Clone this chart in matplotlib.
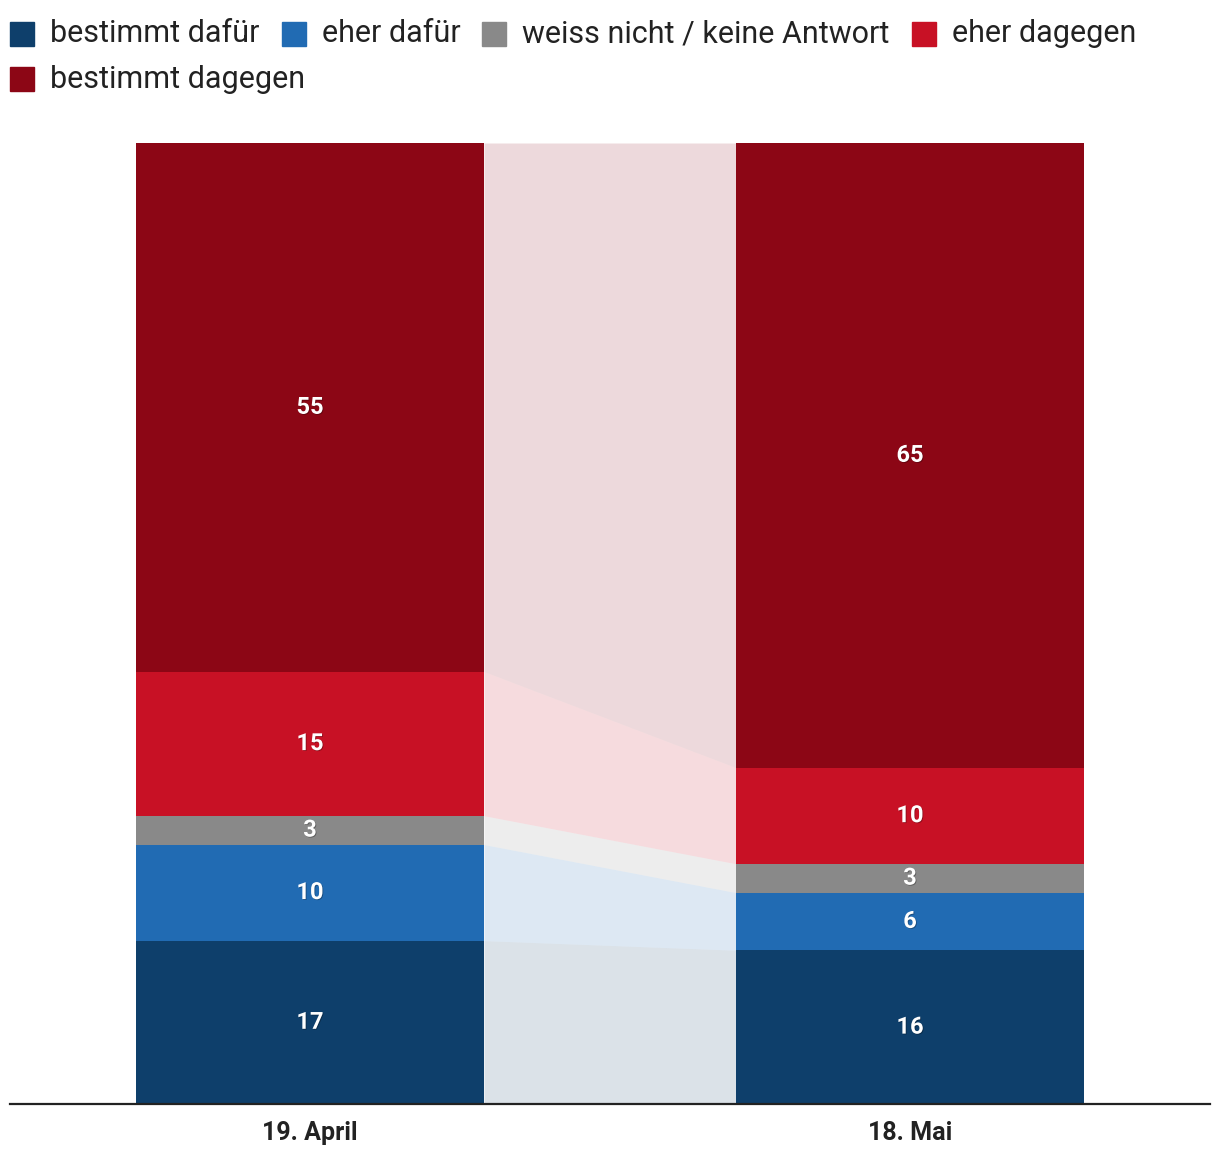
import matplotlib
matplotlib.use("Agg")
import matplotlib.pyplot as plt
import matplotlib.patheffects as pe
from matplotlib.patches import Rectangle
import numpy as np

plt.rcParams['font.family'] = ['Roboto', 'DejaVu Sans']

dates = ["19. April", "18. Mai"]
categories = ["bestimmt dafür", "eher dafür", "weiss nicht / keine Antwort",
              "eher dagegen", "bestimmt dagegen"]
colors = ["#0e3f6b", "#216bb3", "#898989", "#c81125", "#8c0615"]
values = {
    "bestimmt dafür": [17, 16],
    "eher dafür": [10, 6],
    "weiss nicht / keine Antwort": [3, 3],
    "eher dagegen": [15, 10],
    "bestimmt dagegen": [55, 65],
}

W, H = 1220, 1168
fig = plt.figure(figsize=(W / 100, H / 100), dpi=100)
ax = fig.add_axes([10 / W, (H - 1104) / H, 1200 / W, (1104 - 143) / H])

x = np.arange(len(dates))
width = 0.58
bottom = np.zeros(len(dates))
for cat, col in zip(categories, colors):
    v = np.array(values[cat], dtype=float)
    ax.bar(x, v, width, bottom=bottom, color=col, linewidth=0, zorder=2)
    # connecting band
    xs = [x[0] + width / 2, x[1] - width / 2]
    ax.fill_between(xs, bottom, bottom + v, color=col, alpha=0.15,
                    linewidth=0, zorder=1)
    for xi, b, vi in zip(x, bottom, v):
        ax.text(xi, b + vi / 2, f"{int(vi)}", ha="center", va="center",
                color="white", fontsize=17, fontweight="bold", zorder=3,
                path_effects=[pe.withSimplePatchShadow(offset=(0.6, -0.6),
                                                       shadow_rgbFace="#000000",
                                                       alpha=0.3)])
    bottom = bottom + v

ax.set_xlim(-0.5, 1.5)
ax.set_ylim(0, 100)
ax.set_yticks([])
ax.set_xticks(x)
ax.set_xticklabels(dates, fontsize=18, fontweight="bold", color="#222222")
ax.tick_params(axis="x", length=0, pad=12)
for s in ["top", "right", "left"]:
    ax.spines[s].set_visible(False)
ax.spines["bottom"].set_linewidth(1.6)
ax.spines["bottom"].set_color("#222222")
ax.spines["bottom"].set_zorder(4)

# legend drawn by hand, wrapping like the original
fig.canvas.draw()
renderer = fig.canvas.get_renderer()
px, py = 10, 34
sq = 24
for cat, col in zip(categories, colors):
    t = fig.text(0, 0, cat, fontsize=22, color="#222222", va="center")
    tw = t.get_window_extent(renderer).width
    if px + sq + 16 + tw > W - 10:
        px = 10
        py += 45
    fig.patches.append(Rectangle((px / W, (H - py - sq / 2) / H), sq / W, sq / H,
                                 transform=fig.transFigure, color=col,
                                 figure=fig))
    t.set_position(((px + sq + 16) / W, (H - py) / H))
    px += sq + 16 + tw + 22

fig.savefig("out.png", dpi=100)
